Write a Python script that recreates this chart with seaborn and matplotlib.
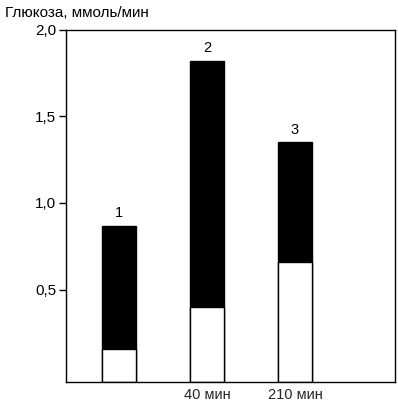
import matplotlib
matplotlib.use("Agg")
import matplotlib.pyplot as plt
import seaborn as sns
import pandas as pd

categories = ["1", "2", "3"]
xlabels = ["", "40 мин", "210 мин"]
total = [0.87, 1.82, 1.35]
bottom_part = [0.16, 0.40, 0.66]
ytick_vals = [0.5, 1.0, 1.5, 2.0]
ytick_labels = ["0,5", "1,0", "1,5", "2,0"]
ylabel = "Глюкоза, ммоль/мин"

sns.set_theme(style="ticks")
plt.rcParams['font.family'] = ['Liberation Sans', 'DejaVu Sans']

df = pd.DataFrame({"cat": categories, "total": total, "bottom": bottom_part})

fig = plt.figure(figsize=(3.98, 4.09), dpi=100)
ax = fig.add_axes([66/398, 1 - 382/409, (395-66)/398, (382-29.5)/409])

sns.barplot(data=df, x="cat", y="total", color="black", edgecolor="black",
            linewidth=1, width=0.386, ax=ax, saturation=1)
sns.barplot(data=df, x="cat", y="bottom", color="white", edgecolor="black",
            linewidth=1, width=0.386, ax=ax, saturation=1)

ymin = -0.032
ax.set_ylim(ymin, 2.0)
# bars in the original drawing reach down to the frame
for p in ax.patches:
    top = p.get_y() + p.get_height()
    p.set_y(ymin)
    p.set_height(top - ymin)

for i, (c, t) in enumerate(zip(categories, total)):
    ax.annotate(c, (i, t), xytext=(0, 4), textcoords="offset points",
                ha="center", va="bottom", fontsize=10.5, color="black")

ax.set_xlim(-0.602, 3.136)
ax.set_yticks(ytick_vals)
ax.set_yticklabels(ytick_labels, fontsize=11)
ax.set_xticks(range(len(xlabels)))
ax.set_xticklabels(xlabels, fontsize=10.5)
ax.tick_params(axis="x", length=0, pad=4)
ax.tick_params(axis="y", length=5, width=1, pad=2, colors="black")
ax.set_xlabel("")
ax.set_ylabel("")
for s in ax.spines.values():
    s.set_visible(True)
    s.set_linewidth(1)
    s.set_color("black")

fig.text(5/398, 1 - 13/409, ylabel, ha="left", va="center", fontsize=11, color="black")

fig.savefig("out.png", dpi=100)
